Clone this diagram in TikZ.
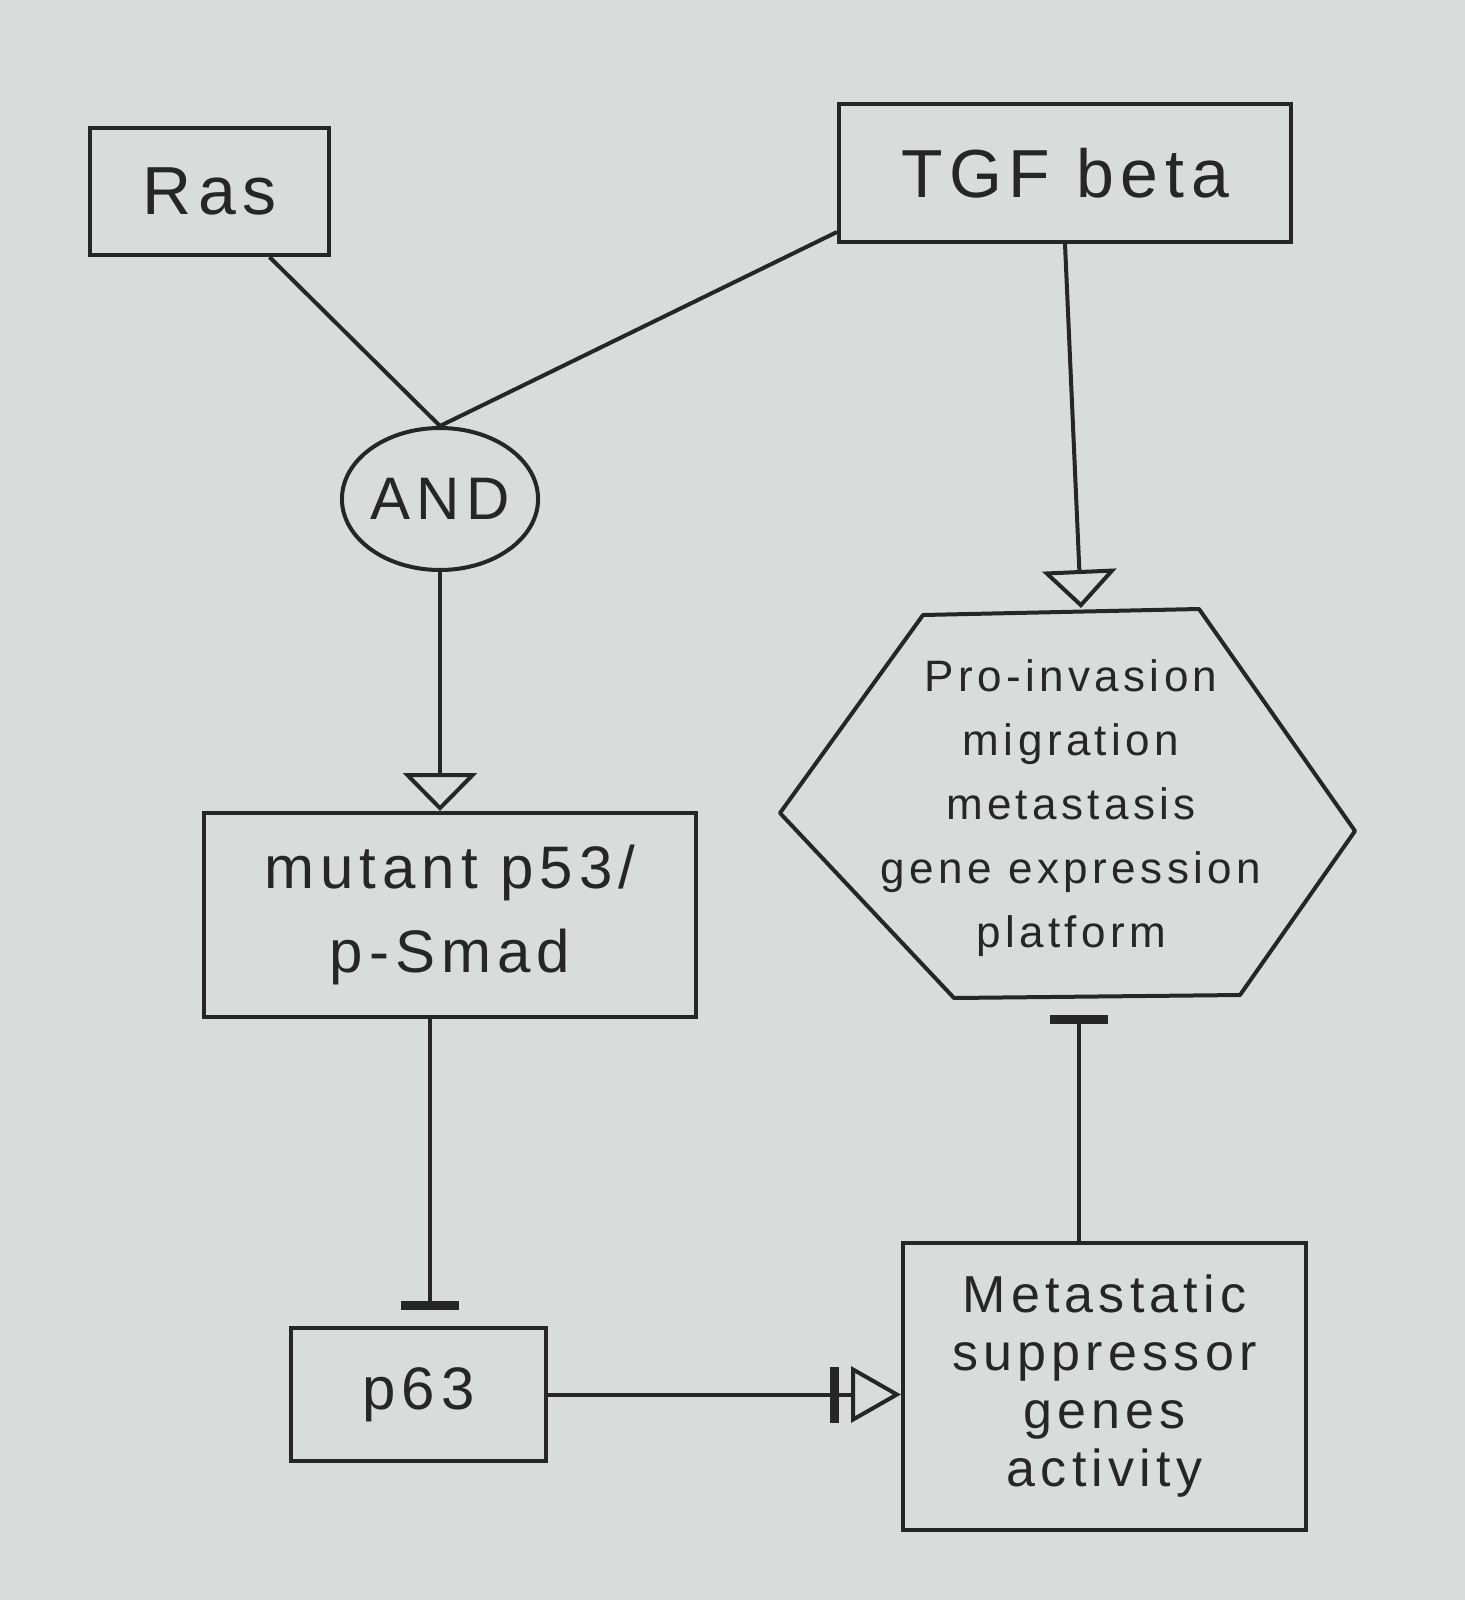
\documentclass[tikz,border=0pt]{standalone}
\usepackage{fontspec}
\setmainfont{Liberation Sans}
\newfontfamily\handfont[LetterSpace=10]{Liberation Sans}
\usetikzlibrary{arrows.meta,shapes.geometric,calc}
\definecolor{paper}{RGB}{216,220,219}
\definecolor{ink}{RGB}{38,38,38}
\begin{document}
\begin{tikzpicture}[x=0.5pt,y=-0.5pt,
  box/.style={draw=ink,line width=2pt,inner sep=0pt,align=center,text=ink},
  big/.style={font=\handfont\fontsize{34}{40}\selectfont},
  mid/.style={font=\handfont\fontsize{30}{42}\selectfont},
  small/.style={font=\handfont\fontsize{26}{29}\selectfont},
  hexfont/.style={font=\handfont\fontsize{22}{32}\selectfont},
  link/.style={draw=ink,line width=2pt},
  act/.style={link,-{Triangle[open,length=19pt,width=37pt]}},
  inh/.style={link,-{Bar[width=29pt,line width=4.5pt]}},
  actinh/.style={link,-{Bar[width=28pt,line width=4.5pt,sep=6pt]Triangle[open,length=25pt,width=28pt]}}
]
\fill[paper] (0,0) rectangle (1465,1600);

\node[box,big,minimum width=119.5pt,minimum height=63.5pt] (ras) at (209.5,191.5) {Ras};
\node[box,big,minimum width=226pt,minimum height=69pt] (tgf) at (1065,173) {TGF beta};
\node[box,mid,ellipse,minimum width=97pt,minimum height=71pt] (and) at (440,499) {AND};
\node[box,mid,minimum width=246pt,minimum height=102pt] (mut) at (450,915) {mutant p53/\\p-Smad};
\node[box,mid,minimum width=127.5pt,minimum height=66.5pt] (p63) at (418.5,1394.5) {p63};
\node[box,small,minimum width=201.5pt,minimum height=143.5pt] (meta) at (1104.5,1386.5) {Metastatic\\suppressor\\genes\\activity};

% hexagon
\draw[link,line join=round] (923,615) -- (1199,609) -- (1355,831) -- (1240,995) -- (954,998) -- (780,813) -- cycle;
\node[hexfont,align=center,text=ink,inner sep=0pt] (hex) at (1071,808) {Pro-invasion\\migration\\metastasis\\gene expression\\platform};
\coordinate (hext) at (1081,608);
\coordinate (hexb) at (1079,997);

% connectors
\draw[link] ([xshift=30pt]ras.south) -- (and.north);
\draw[link] ([yshift=6pt]tgf.south west) -- (and.north);
\draw[act] (tgf.south) -- (hext);
\draw[act] (and.south) -- (and.south |- mut.north);
\draw[inh,shorten >=8pt] ([xshift=-10pt]mut.south) -- ([xshift=-10pt]mut.south |- p63.north);
\draw[actinh] (p63.east) -- (p63.east -| meta.west);
\draw[inh,shorten >=9pt] (meta.north -| hexb) -- (hexb);
\end{tikzpicture}
\end{document}
